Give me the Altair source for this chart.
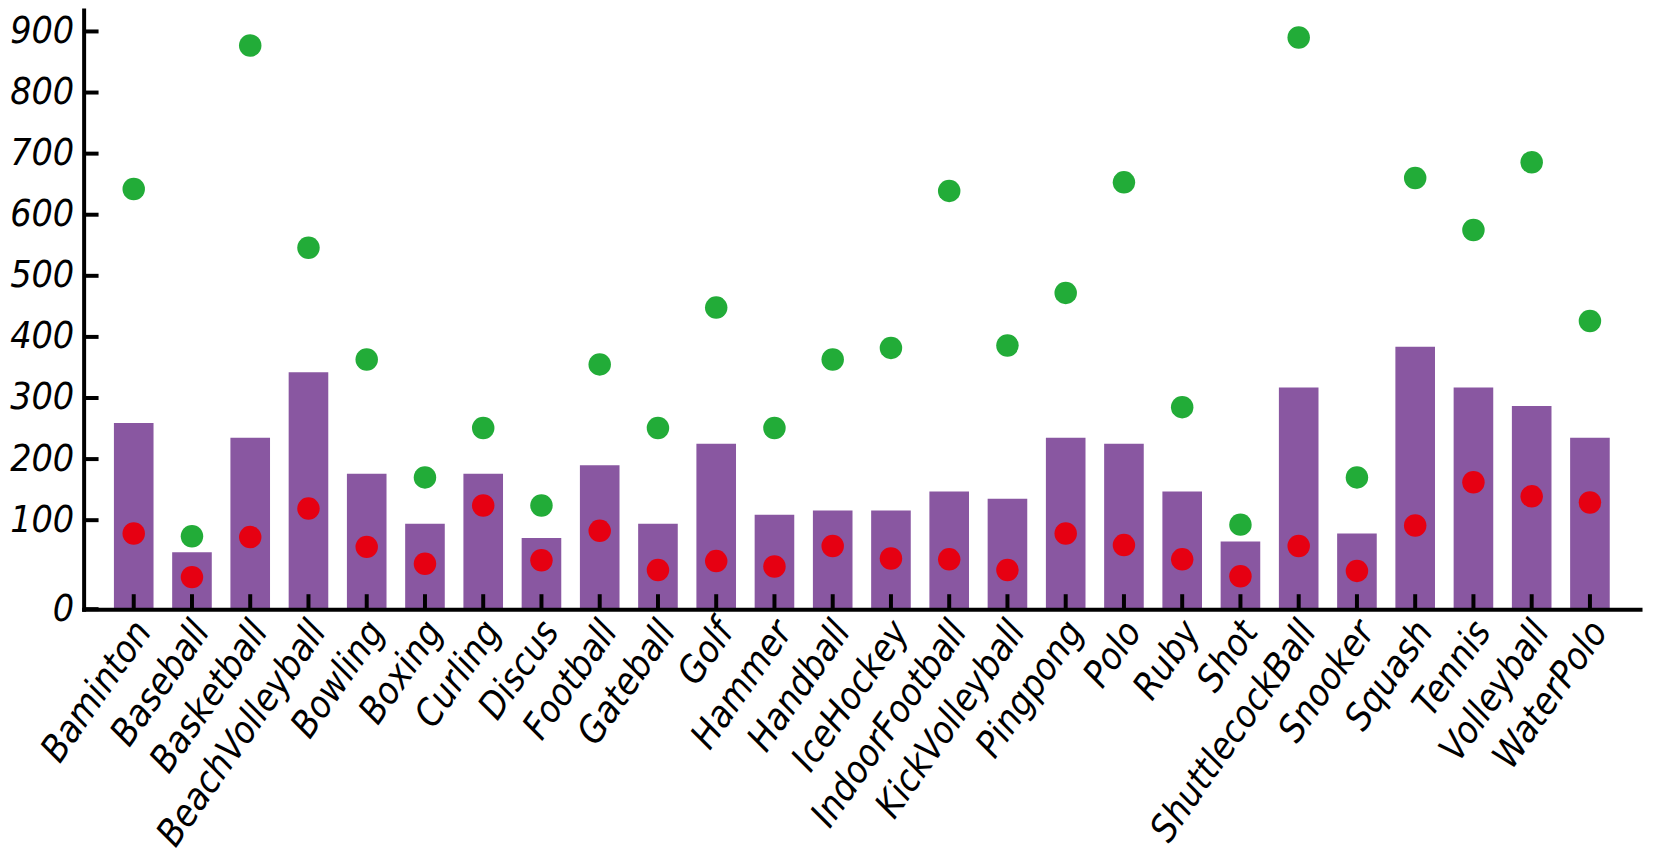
import altair as alt
import pandas as pd

sports = ["Baminton", "Baseball", "Basketball", "BeachVolleyball", "Bowling", "Boxing",
          "Curling", "Discus", "Football", "Gateball", "Golf", "Hammer", "Handball",
          "IceHockey", "IndoorFootball", "KickVolleyball", "Pingpong", "Polo", "Ruby",
          "Shot", "ShuttlecockBall", "Snooker", "Squash", "Tennis", "Volleyball", "WaterPolo"]
bar_values = [259, 64, 235, 342, 176, 96, 176, 80, 190, 96, 225, 109, 116,
              116, 147, 135, 235, 225, 147, 76, 317, 85, 384, 317, 287, 235]
green_values = [642, 82, 877, 546, 363, 170, 251, 124, 355, 251, 448, 251, 363,
                382, 639, 386, 472, 653, 285, 95, 890, 170, 660, 575, 686, 426]
red_values = [85, 36, 81, 119, 70, 51, 124, 55, 88, 44, 54, 48, 71,
              57, 56, 44, 85, 72, 56, 37, 71, 43, 94, 162, 139, 129]
y_ticks = [0, 100, 200, 300, 400, 500, 600, 700, 800, 900]

df = pd.DataFrame({"sport": sports, "bar": bar_values, "green": green_values, "red": red_values})
df_ticks = pd.DataFrame({"v": y_ticks})

W = 1564
H = 602
TICK_LEN = 15
FONT = "DejaVu Sans Condensed, DejaVu Sans"

common_axis = dict(title=None, grid=False, ticks=False, labelFont=FONT, labelFontSize=37.5,
                   labelFontStyle="italic", labelColor="black", domainColor="black",
                   domainWidth=4, domainCap="square", labelOverlap=False, labelLimit=0,
                   zindex=1)

y_scale = alt.Scale(domain=[0, 100, 935], range=[H, H - 89.4, 0], nice=False, zero=False)
y_axis = alt.Axis(values=y_ticks, labelPadding=10, **common_axis)
x_scale = alt.Scale(paddingInner=0.32, paddingOuter=0.52)
x_axis = alt.Axis(labelAngle=-55, labelPadding=16, labelOffset=10, **common_axis)

x_enc = alt.X("sport:N", sort=None, scale=x_scale, axis=x_axis)

bars = alt.Chart(df).mark_bar(color="#8957A1").encode(
    x=x_enc, y=alt.Y("bar:Q", scale=y_scale, axis=y_axis))
greens = alt.Chart(df).mark_circle(color="#22AC38", opacity=1, size=510).encode(
    x=x_enc, y=alt.Y("green:Q", scale=y_scale, axis=y_axis))
reds = alt.Chart(df).mark_circle(color="#E60012", opacity=1, size=510).encode(
    x=x_enc, y=alt.Y("red:Q", scale=y_scale, axis=y_axis))

# inward tick marks (x axis, one per category)
x_ticks = alt.Chart(df).mark_rule(color="black", strokeWidth=4, y2Offset=-TICK_LEN).encode(
    x=x_enc,
    y=alt.Y(datum=0, scale=y_scale, axis=y_axis),
    y2=alt.Y2(datum=0))
# inward tick marks (y axis)
y_tick_marks = alt.Chart(df_ticks).mark_tick(
    color="black", thickness=4, size=TICK_LEN, orient="horizontal",
    opacity=1, xOffset=TICK_LEN / 2).encode(
    y=alt.Y("v:Q", scale=y_scale, axis=y_axis),
    x=alt.value(0))

chart = alt.layer(bars, greens, reds, x_ticks, y_tick_marks).properties(
    width=W, height=H,
    autosize=alt.AutoSizeParams(type="none"),
    padding={"left": 76, "top": 0, "right": 6, "bottom": 250},
).configure_view(stroke=None)

chart.save("out.html", embed_options={"renderer": "svg", "actions": False})
